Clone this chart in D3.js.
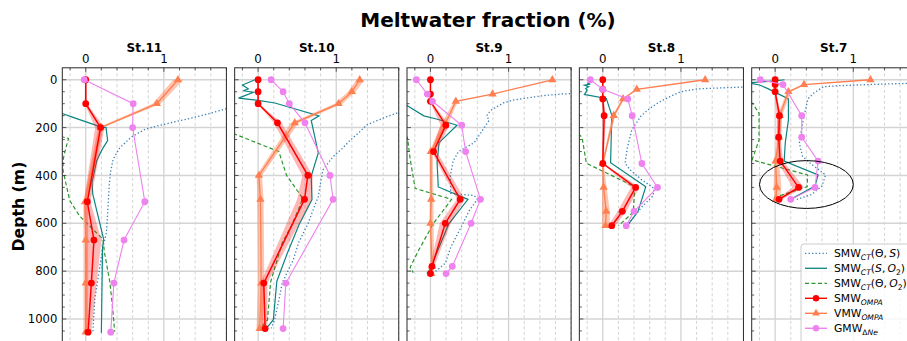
<!DOCTYPE html>
<html>
<head>
<meta charset="utf-8">
<script src="https://cdn.jsdelivr.net/npm/d3@7"></script>
<style>
  html, body { margin: 0; padding: 0; background: #fff; }
  svg { display: block; font-family: "DejaVu Sans", sans-serif; }
</style>
</head>
<body>
<svg id="chart" width="907" height="341"></svg>
<script>
// Station names, left to right
const stations = ["St.11", "St.10", "St.9", "St.8", "St.7"];

// Bottle sampling depths (m) per station
const bottleDepth = [
  [0, 100, 200, 510, 670, 850, 1055],
  [0, 50, 100, 180, 400, 500, 850, 1040],
  [0, 60, 90, 190, 300, 500, 600, 780, 810],
  [0, 40, 80, 150, 350, 450, 550, 610],
  [0, 20, 50, 150, 240, 340, 450, 500]
];

// SMW from OMPA (%), with uncertainty range
const smw = [
  [0, 0, 0.19, 0.02, 0.105, 0.072, 0.03],
  [0, 0, 0, 0.248, 0.637, 0.594, 0.073, 0.09],
  [0, 0, 0, 0.197, 0.04, 0.38, 0.19, 0.02, 0],
  [0, 0, 0, 0.017, 0, 0.42, 0.25, 0.115],
  [0, 0, 0, 0.055, 0.045, 0.065, 0.30, 0.05]
];
const smwLow = [
  [-0.01, -0.015, 0.12, -0.025, 0.0, -0.01, -0.01],
  [-0.005, -0.005, -0.01, 0.20, 0.565, 0.50, 0.03, 0.04],
  [0, 0, -0.01, 0.13, 0.01, 0.34, 0.12, -0.005, -0.02],
  [0, 0, -0.01, -0.01, -0.01, 0.36, 0.19, 0.07],
  [0, -0.01, -0.01, 0.02, 0.02, 0.03, 0.22, 0.02]
];
const smwHigh = [
  [0.01, 0.015, 0.24, 0.06, 0.20, 0.14, 0.07],
  [0.005, 0.005, 0.01, 0.30, 0.70, 0.69, 0.12, 0.12],
  [0, 0, 0.01, 0.24, 0.08, 0.44, 0.26, 0.05, 0.02],
  [0, 0, 0.01, 0.04, 0.01, 0.47, 0.30, 0.16],
  [0, 0.01, 0.01, 0.08, 0.07, 0.10, 0.37, 0.09]
];

// VMW from OMPA (%), with uncertainty range
const vmw = [
  [1.18, 0.91, 0.19, -0.01, 0, 0, 0],
  [1.30, 1.20, 1.03, 0.47, 0.01, 0.03, 0.04, 0.02],
  [1.56, 0.795, 0.325, 0.18, 0.005, 0.01, 0, 0.02, 0.01],
  [1.31, 0.435, 0.26, 0.14, 0, 0.01, 0.043, 0.035],
  [1.22, 0.37, 0.17, 0.06, 0.05, 0.005, 0.02, 0.01]
];
const vmwLow = [
  [1.12, 0.855, 0.16, -0.03, -0.03, -0.03, -0.03],
  [1.26, 1.15, 0.98, 0.42, -0.02, -0.01, 0, -0.02],
  [1.55, 0.785, 0.30, 0.13, -0.01, -0.01, -0.01, 0, -0.02],
  [1.30, 0.425, 0.245, 0.12, -0.01, -0.01, -0.01, -0.01],
  [1.20, 0.35, 0.15, 0.03, 0.02, -0.01, -0.02, -0.01]
];
const vmwHigh = [
  [1.25, 0.96, 0.22, 0.03, 0.03, 0.03, 0.03],
  [1.36, 1.25, 1.08, 0.52, 0.05, 0.07, 0.08, 0.06],
  [1.57, 0.805, 0.35, 0.22, 0.03, 0.04, 0.04, 0.05, 0.03],
  [1.32, 0.445, 0.275, 0.16, 0.01, 0.05, 0.09, 0.09],
  [1.25, 0.40, 0.20, 0.09, 0.08, 0.05, 0.08, 0.06]
];

// GMW from noble gas (Ne) excess (%); null where not sampled
const gmw = [
  [-0.02, 0.607, 0.60, 0.756, 0.49, 0.36, 0.32],
  [0.167, 0.32, 0.40, 0.60, 0.92, 0.96, 0.355, 0.32],
  [-0.18, -0.04, 0.026, 0.40, 0.45, 0.64, 0.52, 0.28, 0.20],
  [-0.16, 0, 0.32, 0.376, 0.50, 0.70, 0.40, 0.30],
  [-0.19, 0.10, null, 0.34, 0.34, 0.55, 0.51, 0.20]
];

// Continuous CTD-based profiles: [depth (m), fraction (%)]
const ctThetaS = [
  [[105,2.2],[121,1.8],[144,1.55],[165,1.29],[190,0.95],[207,0.76],[239,0.585],[284,0.436],[333,0.35],[388,0.316],[444,0.30],[528,0.286],[639,0.265],[700,0.22],[781,0.18],[920,0.115],[1058,0.09]],
  [[125,2.0],[140,1.77],[160,1.6],[189,1.39],[221,1.29],[252,1.18],[290,1.07],[321,0.96],[377,0.83],[430,0.8],[489,0.77],[556,0.69],[600,0.64],[680,0.52],[753,0.45],[848,0.31],[930,0.26],[1004,0.21],[1039,0.17]],
  [[55,2.1],[59,1.7],[66,1.45],[84,1.07],[96,0.94],[128,0.77],[150,0.72],[170,0.75],[195,0.70],[263,0.56],[300,0.36],[340,0.29],[400,0.255],[475,0.26],[484,0.56],[500,0.60],[545,0.50],[611,0.40],[700,0.26],[767,0.19],[795,0.09],[808,0.03]],
  [[28,2.1],[31,1.75],[38,1.21],[50,1.0],[64,0.9],[91,0.735],[120,0.6],[151,0.49],[210,0.37],[291,0.31],[349,0.286],[377,0.35],[416,0.49],[455,0.66],[486,0.64],[528,0.51],[569,0.41],[607,0.32]],
  [[12,2.0],[15,1.70],[20,1.2],[25,0.80],[29,0.62],[54,0.5],[80,0.42],[151,0.37],[221,0.33],[265,0.31],[320,0.35],[349,0.45],[398,0.645],[444,0.6],[479,0.47],[502,0.26]]
];
const ctSO2 = [
  [[135,-0.4],[142,-0.29],[154,-0.19],[196,0.18],[200,0.26],[254,0.28],[291,0.21],[338,0.14],[430,0.08],[478,0.09],[560,0.15],[668,0.23],[700,0.215],[1058,0.20]],
  [[0,-0.04],[22,-0.2],[38,-0.125],[46,-0.19],[52,-0.06],[77,-0.25],[86,0.0],[97,0.215],[151,0.78],[170,0.68],[306,0.77],[403,0.68],[501,0.69],[605,0.525],[724,0.375],[842,0.24],[1003,0.195],[1022,0.15],[1041,0.1]],
  [[100,-0.4],[108,-0.3],[151,-0.085],[165,0.09],[190,0.34],[263,0.11],[347,0.085],[448,0.10],[500,0.48],[602,0.235],[720,0.085],[795,-0.01],[809,-0.045]],
  [[14,-0.2],[18,-0.16],[23,-0.235],[29,-0.18],[37,-0.22],[43,-0.2],[62,-0.235],[64,-0.19],[78,0.045],[149,0.115],[347,0.1],[447,0.55],[551,0.45],[607,0.32]],
  [[0,0.12],[5,0.0],[13,-0.35],[22,-0.2],[36,-0.1],[80,0.17],[168,0.17],[263,0.13],[340,0.115],[398,0.55],[444,0.51],[500,0.2]]
];
const ctThetaO2 = [
  [[232,-0.4],[245,-0.22],[305,-0.27],[335,-0.29],[380,-0.29],[505,-0.205],[570,-0.077],[626,0.094],[666,0.22],[723,0.24],[848,0.31],[974,0.35],[1053,0.37]],
  [[220,-0.4],[227,-0.3],[300,0.265],[400,0.365],[495,0.57],[540,0.52],[614,0.42],[681,0.31],[846,0.16],[1004,0.12],[1034,0.04]],
  [[230,-0.4],[240,-0.295],[330,-0.26],[454,-0.196],[500,0.27],[600,0.04],[712,-0.15],[784,-0.26],[806,-0.22]],
  [[225,-0.4],[232,-0.29],[242,-0.265],[349,-0.21],[447,0.41],[553,0.39],[611,0.2]],
  [[90,-0.4],[98,-0.29],[140,-0.206],[252,-0.206],[335,-0.295],[398,0.415],[447,0.41],[496,-0.045]]
];

// Axis ticks
const depthTicks = [0, 200, 400, 600, 800, 1000];
const fractionTicks = [0, 1];

// Highlighted region on the last station: centre (fraction, depth) and radii
const highlight = { station: 4, cx: 0.4, cy: 438, rx: 0.6, ry: 100 };

const svg = d3.select("#chart");
const panelLeft0 = 62.3, panelStep = 172.35, panelW = 164.1;
const plotTop = 67.8, plotBottom = 342.9;

const y = d3.scaleLinear().domain([-50, 1100]).range([plotTop, plotBottom]);

const colors = {
  ts: "#3a7fb5", so2: "#0b8482", to2: "#2e962e",
  smw: "#ff0000", vmw: "#ff7f50", gmw: "#ee82ee"
};

svg.append("text")
  .attr("x", 488).attr("y", 27)
  .attr("text-anchor", "middle")
  .attr("font-weight", "bold").attr("font-size", 20)
  .text("Meltwater fraction (%)");

svg.append("text")
  .attr("transform", `translate(24,${y(530)}) rotate(-90)`)
  .attr("text-anchor", "middle")
  .attr("font-weight", "bold").attr("font-size", 15.7)
  .text("Depth (m)");

const defs = svg.append("defs");
const triangle = d3.symbol().type(d3.symbolTriangle).size(30);

stations.forEach((name, i) => {
  const L = panelLeft0 + i * panelStep;
  const x = d3.scaleLinear().domain([-0.3, 1.8]).range([L, L + panelW]);
  const g = svg.append("g");

  defs.append("clipPath").attr("id", "clip" + i)
    .append("rect").attr("x", L).attr("y", plotTop).attr("width", panelW).attr("height", plotBottom - plotTop);

  // grid
  const minorX = d3.range(-0.2, 1.81, 0.2).filter(v => Math.abs(v) > 1e-6 && Math.abs(v - 1) > 1e-6);
  g.selectAll(".gxm").data(minorX).join("line")
    .attr("x1", d => x(d)).attr("x2", d => x(d)).attr("y1", plotTop).attr("y2", plotBottom)
    .attr("stroke", "#c8c8c8").attr("stroke-width", 0.8).attr("stroke-dasharray", "3,2.5");
  g.selectAll(".gxM").data(fractionTicks).join("line")
    .attr("x1", d => x(d)).attr("x2", d => x(d)).attr("y1", plotTop).attr("y2", plotBottom)
    .attr("stroke", "#cfcfcf").attr("stroke-width", 1.2);
  g.selectAll(".gy").data(depthTicks).join("line")
    .attr("x1", L).attr("x2", L + panelW).attr("y1", d => y(d)).attr("y2", d => y(d))
    .attr("stroke", "#d4d4d4").attr("stroke-width", 1.5);

  const plot = g.append("g").attr("clip-path", `url(#clip${i})`);
  const prof = d3.line().x(d => x(d[1])).y(d => y(d[0]));

  plot.append("path").attr("d", prof(ctThetaS[i])).attr("fill", "none")
    .attr("stroke", colors.ts).attr("stroke-width", 1.3).attr("stroke-dasharray", "1.3,2.2");
  plot.append("path").attr("d", prof(ctSO2[i])).attr("fill", "none")
    .attr("stroke", colors.so2).attr("stroke-width", 1.2);
  plot.append("path").attr("d", prof(ctThetaO2[i])).attr("fill", "none")
    .attr("stroke", colors.to2).attr("stroke-width", 1.2).attr("stroke-dasharray", "4,2.5");

  const dep = bottleDepth[i];
  const band = d3.area().x0(d => x(d[1])).x1(d => x(d[2])).y(d => y(d[0]));
  const pts = (vals) => dep.map((d, k) => [d, vals[k]]).filter(p => p[1] !== null);

  // uncertainty bands
  plot.append("path").attr("d", band(dep.map((d, k) => [d, vmwLow[i][k], vmwHigh[i][k]])))
    .attr("fill", colors.vmw).attr("fill-opacity", 0.45);
  plot.append("path").attr("d", band(dep.map((d, k) => [d, smwLow[i][k], smwHigh[i][k]])))
    .attr("fill", colors.smw).attr("fill-opacity", 0.28);

  // VMW
  plot.append("path").attr("d", prof(pts(vmw[i]))).attr("fill", "none")
    .attr("stroke", colors.vmw).attr("stroke-width", 1.3);
  plot.selectAll(".vm").data(pts(vmw[i])).join("path")
    .attr("d", triangle).attr("transform", d => `translate(${x(d[1])},${y(d[0])})`)
    .attr("fill", colors.vmw);

  // SMW
  plot.append("path").attr("d", prof(pts(smw[i]))).attr("fill", "none")
    .attr("stroke", colors.smw).attr("stroke-width", 1.5);
  plot.selectAll(".sm").data(pts(smw[i])).join("circle")
    .attr("cx", d => x(d[1])).attr("cy", d => y(d[0])).attr("r", 3.4)
    .attr("fill", colors.smw);

  // GMW
  plot.append("path").attr("d", prof(pts(gmw[i]))).attr("fill", "none")
    .attr("stroke", colors.gmw).attr("stroke-width", 1.1);
  plot.selectAll(".gm").data(pts(gmw[i])).join("circle")
    .attr("cx", d => x(d[1])).attr("cy", d => y(d[0])).attr("r", 3.4)
    .attr("fill", colors.gmw);

  if (highlight.station === i) {
    plot.append("ellipse")
      .attr("cx", x(highlight.cx)).attr("cy", y(highlight.cy))
      .attr("rx", x(highlight.cx + highlight.rx) - x(highlight.cx))
      .attr("ry", y(highlight.cy + highlight.ry) - y(highlight.cy))
      .attr("fill", "none").attr("stroke", "#000").attr("stroke-width", 1);
  }

  // ticks (inward)
  const minorY = d3.range(0, 1101, 50);
  g.selectAll(".ty").data(minorY).join("line")
    .attr("x1", L).attr("x2", d => L + (d % 200 === 0 ? 4 : 2.5))
    .attr("y1", d => y(d)).attr("y2", d => y(d))
    .attr("stroke", "#333").attr("stroke-width", 0.8);
  g.selectAll(".tx").data(d3.range(-0.2, 1.81, 0.2)).join("line")
    .attr("x1", d => x(d)).attr("x2", d => x(d))
    .attr("y1", plotTop).attr("y2", d => plotTop + (Math.abs(d - Math.round(d)) < 1e-6 ? 4 : 2.5))
    .attr("stroke", "#333").attr("stroke-width", 0.8);

  // frame
  g.append("rect").attr("x", L).attr("y", plotTop).attr("width", panelW).attr("height", plotBottom - plotTop)
    .attr("fill", "none").attr("stroke", "#2a2a2a").attr("stroke-width", 1);

  // labels
  g.append("text").attr("x", L + panelW / 2).attr("y", 51.5)
    .attr("text-anchor", "middle").attr("font-weight", "bold").attr("font-size", 12)
    .text(name);
  g.selectAll(".xl").data(fractionTicks).join("text")
    .attr("x", d => x(d)).attr("y", 63)
    .attr("text-anchor", "middle").attr("font-size", 11.8).text(d => d);
  if (i === 0) {
    g.selectAll(".yl").data(depthTicks).join("text")
      .attr("x", L - 5).attr("y", d => y(d) + 4.2)
      .attr("text-anchor", "end").attr("font-size", 11.6).text(d => d);
  }
});

// legend
const legendItems = [
  { parts: [["SMW"], ["CT", "sub"], ["(Θ,\u2009"], ["S", "it"], [")"]], color: colors.ts, dash: "1.3,2.2", marker: null },
  { parts: [["SMW"], ["CT", "sub"], ["("], ["S", "it"], [",\u2009"], ["O", "it"], ["2", "sub2"], [")"]], color: colors.so2, dash: null, marker: null },
  { parts: [["SMW"], ["CT", "sub"], ["(Θ,\u2009"], ["O", "it"], ["2", "sub2"], [")"]], color: colors.to2, dash: "4,2.5", marker: null },
  { parts: [["SMW"], ["OMPA", "sub"]], color: colors.smw, dash: null, marker: "circle" },
  { parts: [["VMW"], ["OMPA", "sub"]], color: colors.vmw, dash: null, marker: "triangle" },
  { parts: [["GMW"], ["Δ", "subu"], ["Ne", "sub"]], color: colors.gmw, dash: null, marker: "circle" }
];
const lg = svg.append("g");
lg.append("rect").attr("x", 801).attr("y", 244).attr("width", 112).attr("height", 104)
  .attr("rx", 3).attr("fill", "#fff").attr("fill-opacity", 0.8)
  .attr("stroke", "#cccccc").attr("stroke-width", 1);
legendItems.forEach((it, k) => {
  const cy = 253.3 + k * 15;
  lg.append("line").attr("x1", 805).attr("x2", 827).attr("y1", cy).attr("y2", cy)
    .attr("stroke", it.color).attr("stroke-width", it.marker ? 1.4 : 1.3)
    .attr("stroke-dasharray", it.dash);
  if (it.marker === "circle") {
    lg.append("circle").attr("cx", 816).attr("cy", cy).attr("r", 3.2).attr("fill", it.color);
  } else if (it.marker === "triangle") {
    lg.append("path").attr("d", d3.symbol().type(d3.symbolTriangle).size(26)())
      .attr("transform", `translate(816,${cy})`).attr("fill", it.color);
  }
  const t = lg.append("text").attr("x", 834).attr("y", cy + 3.9).attr("font-size", 10.8);
  let shifted = false;
  it.parts.forEach(([s, kind]) => {
    const ts = t.append("tspan").text(s);
    const isSub = kind === "sub" || kind === "sub2" || kind === "subu";
    if (isSub && !shifted) { ts.attr("dy", 2.4); shifted = true; }
    if (!isSub && shifted) { ts.attr("dy", -2.4); shifted = false; }
    if (isSub) ts.attr("font-size", 7.6);
    if (kind === "sub" || kind === "it") ts.attr("font-style", "italic");
  });
});
</script>
</body>
</html>
